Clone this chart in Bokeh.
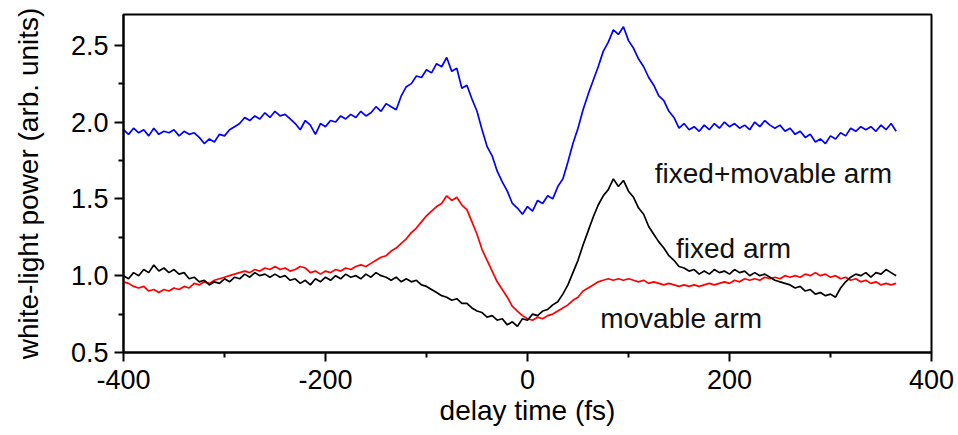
from bokeh.plotting import figure
from bokeh.models import Range1d, FixedTicker
from bokeh.core.properties import value
from bokeh.embed import file_html
from bokeh.resources import INLINE

# delay time samples every 5 fs, from -400 fs
delay_start = -400
delay_step = 5

# fixed+movable arm (blue)
fixed_movable = [
    1.95, 1.92, 1.96, 1.93, 1.95, 1.91, 1.96, 1.92, 1.94, 1.93,   # -400..-355
    1.95, 1.91, 1.94, 1.92, 1.93, 1.90, 1.86, 1.89, 1.87, 1.92,   # -350..-305
    1.91, 1.95, 1.97, 1.99, 2.03, 2.01, 2.04, 2.02, 2.06, 2.03,   # -300..-255
    2.07, 2.04, 2.05, 2.02, 1.99, 1.95, 2.01, 1.98, 1.92, 1.99,   # -250..-205
    1.97, 2.01, 2.00, 2.04, 2.02, 2.05, 2.03, 2.07, 2.04, 2.06,   # -200..-155
    2.10, 2.07, 2.12, 2.10, 2.08, 2.17, 2.23, 2.25, 2.30, 2.29,   # -150..-105
    2.34, 2.32, 2.38, 2.36, 2.42, 2.33, 2.35, 2.22, 2.24, 2.15,   # -100..-55
    2.07, 1.95, 1.84, 1.78, 1.68, 1.61, 1.55, 1.47, 1.44, 1.40,   # -50..-5
    1.45, 1.42, 1.49, 1.47, 1.52, 1.50, 1.58, 1.63, 1.74, 1.86,   # 0..45
    1.96, 2.08, 2.18, 2.27, 2.36, 2.46, 2.52, 2.60, 2.57, 2.62,   # 50..95
    2.53, 2.48, 2.41, 2.36, 2.29, 2.24, 2.17, 2.14, 2.07, 2.03,   # 100..145
    1.96, 1.99, 1.95, 1.97, 1.94, 1.98, 1.95, 1.99, 1.96, 2.00,   # 150..195
    1.97, 1.99, 1.96, 1.98, 1.95, 2.00, 1.97, 2.01, 1.98, 1.96,   # 200..245
    1.98, 1.94, 1.96, 1.92, 1.94, 1.90, 1.92, 1.87, 1.89, 1.86,   # 250..295
    1.91, 1.89, 1.93, 1.91, 1.96, 1.94, 1.97, 1.95, 1.97, 1.94,   # 300..345
    1.98, 1.95, 1.99, 1.94,                                       # 350..365
]

# fixed arm (black)
fixed_arm = [
    1.00, 0.98, 1.02, 1.00, 1.04, 1.02, 1.07, 1.03, 1.05, 1.02,
    1.04, 1.01, 1.02, 0.98, 0.99, 0.96, 0.97, 0.94, 0.96, 0.95,
    0.98, 0.96, 0.99, 0.98, 1.01, 0.99, 1.02, 1.00, 1.01, 0.99,
    1.01, 0.99, 1.00, 0.97, 0.98, 0.95, 0.97, 0.94, 0.98, 0.96,
    0.99, 0.97, 1.00, 0.98, 1.01, 0.99, 1.00, 0.98, 1.01, 0.99,
    1.02, 1.00, 0.99, 0.97, 0.99, 0.96, 0.98, 0.96, 0.97, 0.94,
    0.93, 0.91, 0.89, 0.87, 0.86, 0.84, 0.85, 0.82, 0.82, 0.79,
    0.77, 0.76, 0.73, 0.74, 0.71, 0.72, 0.68, 0.70, 0.67, 0.72,
    0.71, 0.75, 0.74, 0.77, 0.78, 0.81, 0.83, 0.88, 0.94, 1.02,
    1.10, 1.20, 1.29, 1.38, 1.46, 1.52, 1.56, 1.63, 1.58, 1.62,
    1.55, 1.51, 1.44, 1.40, 1.32, 1.27, 1.22, 1.18, 1.13, 1.10,
    1.06, 1.05, 1.03, 1.04, 1.01, 1.03, 1.01, 1.04, 1.02, 1.03,
    1.01, 1.04, 1.02, 1.03, 1.00, 1.02, 1.00, 1.01, 0.99, 0.97,
    0.96, 0.95, 0.94, 0.92, 0.93, 0.90, 0.91, 0.88, 0.89, 0.87,
    0.88, 0.86, 0.92, 0.96, 0.99, 1.01, 1.00, 1.02, 0.99, 1.02,
    1.01, 1.04, 1.02, 1.00,
]

# movable arm (red)
movable_arm = [
    0.96, 0.95, 0.93, 0.92, 0.93, 0.90, 0.91, 0.89, 0.91, 0.90,
    0.92, 0.91, 0.93, 0.92, 0.95, 0.94, 0.96, 0.95, 0.97, 0.98,
    0.99, 1.00, 1.01, 1.02, 1.03, 1.02, 1.04, 1.03, 1.05, 1.04,
    1.06, 1.04, 1.05, 1.03, 1.04, 1.06, 1.05, 1.02, 1.03, 1.01,
    1.03, 1.02, 1.04, 1.03, 1.05, 1.04, 1.06, 1.07, 1.06, 1.08,
    1.10, 1.12, 1.13, 1.16, 1.18, 1.21, 1.24, 1.28, 1.31, 1.35,
    1.39, 1.42, 1.45, 1.47, 1.52, 1.49, 1.51, 1.46, 1.43, 1.35,
    1.27, 1.17, 1.10, 1.03, 0.96, 0.91, 0.86, 0.80, 0.77, 0.74,
    0.72, 0.71, 0.73, 0.72, 0.74, 0.75, 0.77, 0.79, 0.81, 0.84,
    0.86, 0.90, 0.92, 0.94, 0.96, 0.97, 0.98, 0.97, 0.98, 0.97,
    0.98, 0.97, 0.96, 0.97, 0.95, 0.96, 0.95, 0.94, 0.95, 0.94,
    0.93, 0.94, 0.93, 0.94, 0.93, 0.94, 0.95, 0.94, 0.95, 0.96,
    0.95, 0.97, 0.96, 0.98, 0.97, 0.98, 0.97, 0.99, 0.98, 0.99,
    0.98, 1.00, 0.99, 1.00, 0.99, 1.01, 1.00, 1.02, 1.00, 1.01,
    0.99, 1.00, 0.98, 0.99, 0.97, 0.98, 0.96, 0.97, 0.95, 0.96,
    0.94, 0.95, 0.94, 0.95,
]

x_ticks = [-400, -200, 0, 200, 400]
x_tick_labels = ["-400", "-200", "0", "200", "400"]
x_minor = [-300, -100, 100, 300]
y_ticks = [0.5, 1.0, 1.5, 2.0, 2.5]
y_tick_labels = ["0.5", "1.0", "1.5", "2.0", "2.5"]
y_minor = [0.75, 1.25, 1.75, 2.25]

labels = ["fixed+movable arm", "fixed arm", "movable arm"]
label_x = [126, 147, 72]
label_y = [1.668, 1.175, 0.722]

FONT = "Liberation Sans"

def xs(series):
    return [delay_start + delay_step * i for i in range(len(series))]

p = figure(width=958, height=435, output_backend="svg", toolbar_location=None,
           x_range=Range1d(-400, 400), y_range=Range1d(0.5, 2.70),
           min_border_left=123, min_border_right=27, min_border_top=14,
           min_border_bottom=83)
p.grid.visible = False
p.outline_line_color = "black"
p.outline_line_width = 2
p.background_fill_color = "white"
p.border_fill_color = "white"

p.line(xs(fixed_movable), fixed_movable, line_color="#0000ff", line_width=1.7)
p.line(xs(movable_arm), movable_arm, line_color="#ff0000", line_width=1.7)
p.line(xs(fixed_arm), fixed_arm, line_color="#000000", line_width=1.7)

p.text(x=label_x, y=label_y, text=labels, text_font=value(FONT),
       text_font_size="28px", text_color="#111111",
       text_baseline="alphabetic", text_align="left")

p.xaxis.ticker = FixedTicker(ticks=x_ticks, minor_ticks=x_minor)
p.yaxis.ticker = FixedTicker(ticks=y_ticks, minor_ticks=y_minor)
p.xaxis.major_label_overrides = dict(zip(x_ticks, x_tick_labels))
p.yaxis.major_label_overrides = dict(zip(y_ticks, y_tick_labels))

for ax in (p.xaxis[0], p.yaxis[0]):
    ax.axis_line_width = 2
    ax.axis_line_color = "black"
    ax.major_tick_line_width = 2
    ax.minor_tick_line_width = 2
    ax.major_tick_out = 9
    ax.major_tick_in = 0
    ax.minor_tick_out = 5
    ax.minor_tick_in = 0
    ax.major_label_text_font = FONT
    ax.major_label_text_font_size = "27px"
    ax.major_label_text_color = "black"
    ax.axis_label_text_font = FONT
    ax.axis_label_text_font_size = "28px"
    ax.axis_label_text_font_style = "normal"
    ax.axis_label_text_color = "black"

p.xaxis.axis_label = "delay time (fs)"
p.yaxis.axis_label = "white-light power (arb. units)"
p.xaxis.major_label_standoff = 8
p.xaxis.axis_label_standoff = 3
p.yaxis.major_label_standoff = 6
p.yaxis.axis_label_standoff = 24

open("out.html", "w").write(file_html(p, INLINE))
